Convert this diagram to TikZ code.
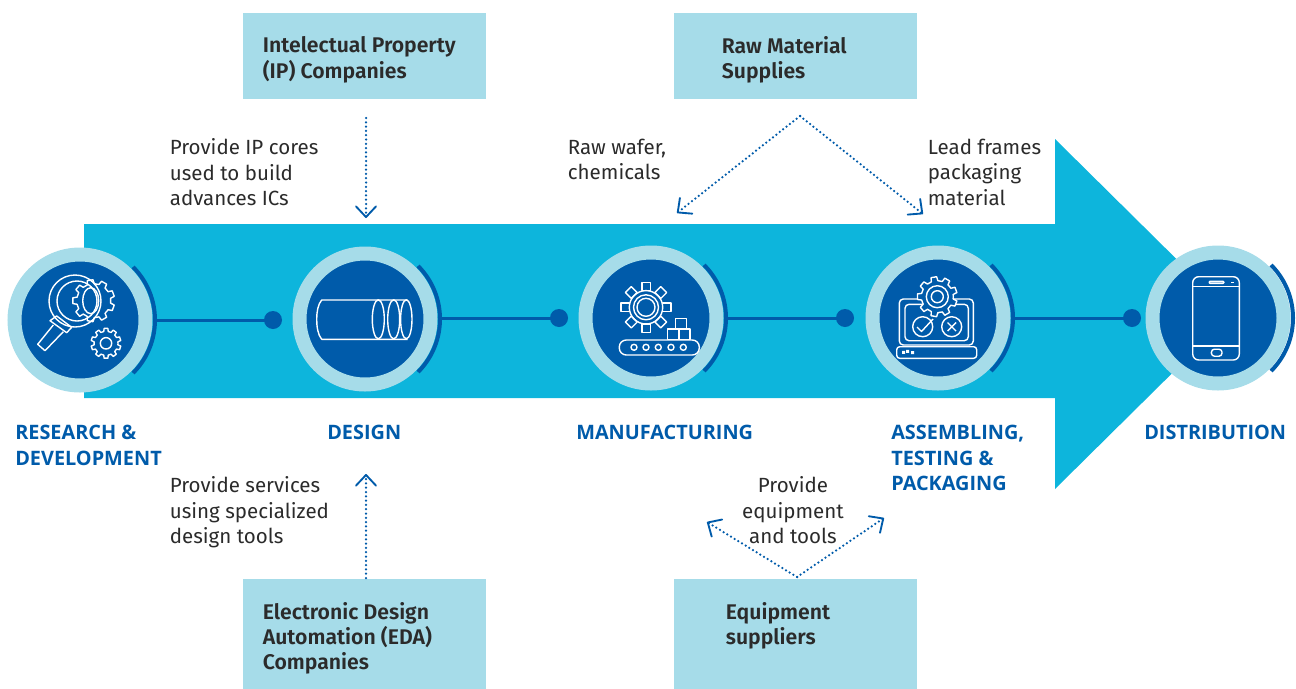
\documentclass[tikz,border=0pt]{standalone}
\usepackage{fontspec}
\setmainfont{Fira Sans}
\newfontfamily\headfont{Fira Sans SemiBold}
\newfontfamily\stagefont{Open Sans}
\usetikzlibrary{arrows.meta,calc}
\definecolor{flow}{HTML}{0DB5DC}
\definecolor{pale}{HTML}{A6DCE9}
\definecolor{deep}{HTML}{005BAA}
\definecolor{ink}{HTML}{2B2B2B}
\newdimen\px \px=0.75pt
\tikzset{
  ring/.style={circle,fill=deep,draw=pale,line width=14\px,minimum size=131\px,inner sep=0pt},
  stub/.style={circle,fill=deep,minimum size=18\px,inner sep=0pt},
  link/.style={draw=deep,line width=3\px},
  bow/.style={draw=deep,line width=4\px},
  icon/.style={draw=white,line width=1.4\px,line join=round},
  panel/.style={fill=pale,anchor=north west,inner sep=0pt,minimum width=243\px},
  say/.style={anchor=north west,inner sep=0pt,align=left,text=ink,font=\fontsize{15.4}{19.1}\selectfont},
  sayc/.style={say,align=center,anchor=north},
  head/.style={say,text=ink,font=\fontsize{15.9}{18.9}\headfont\selectfont},
  stage/.style={say,text=deep,font=\fontsize{14.9}{19.1}\stagefont\bfseries\selectfont},
  dots/.style={draw=deep,line width=2.5\px,line cap=round,dash pattern=on 0pt off 4.3\px,
    -{Straight Barb[length=8pt,width=15pt,line width=1.4pt,round]}},
}
% centre x, centre y, outer r, root r, teeth
\newcommand{\cog}[5]{%
  \pgfmathsetmacro{\st}{360/#5}%
  \draw[icon,fill=deep] ($(#1,#2)+(0:#4)$)
    \foreach \k in {1,...,#5}{
      -- ($(#1,#2)+({(\k-1)*\st+0.2*\st}:#4)$)
      -- ($(#1,#2)+({(\k-1)*\st+0.3*\st}:#3)$)
      -- ($(#1,#2)+({(\k-1)*\st+0.7*\st}:#3)$)
      -- ($(#1,#2)+({(\k-1)*\st+0.8*\st}:#4)$)
    } -- cycle;}
\begin{document}
\begin{tikzpicture}[x=0.75pt,y=-0.75pt]
\useasboundingbox (0,0) rectangle (1296,689);
% big arrow
\fill[flow] (84,224) -- (1055,224) -- (1055,139) -- (1232,314) -- (1055,489) -- (1055,398) -- (84,398) -- cycle;
% panels
\node[panel,minimum height=86\px] (ip) at (243,13) {};
\node[panel,minimum height=86\px] (raw) at (674,13) {};
\node[panel,minimum height=110\px] (eda) at (243,579) {};
\node[panel,minimum height=110\px] (equip) at (674,579) {};
\node[head] (iptext) at (262.6,36.5) {Intelectual Property\\(IP) Companies};
\node[head] (rawtext) at (721.6,36.5) {Raw Material\\Supplies};
\node[head] (edatext) at (262.6,602.2) {Electronic Design\\Automation (EDA)\\Companies};
\node[head] (equiptext) at (725.6,602.2) {Equipment\\suppliers};
% circles
\node[ring] (c1) at (80,320) {};
\node[ring] (c2) at (365,319) {};
\node[ring] (c3) at (651,318) {};
\node[ring] (c4) at (938,318) {};
\node[ring] (c5) at (1218,318) {};
\node[stub] (d1) at (273,320) {};
\node[stub] (d2) at (559,318) {};
\node[stub] (d3) at (845,318) {};
\node[stub] (d4) at (1132,318) {};
\foreach \a/\b in {c1/d1,c2/d2,c3/d3,c4/d4}
  \draw[link] (\a.east |- \b.center) -- (\b.center);
\foreach \a in {c1,c2,c3,c4,c5}
  \draw[bow] ($(\a.center)+(-45:75)$) arc (-45:45:75);
% icon 1: magnifier and gears
\cog{93.7}{300.7}{21}{17}{9}
\draw[icon] (90.7,300.7) ellipse (8 and 13);
\draw[icon] (75,301) circle (26);
\draw[icon] (77,301) circle (20);
\draw[icon] (50,320.7) -- (56.7,316) -- (71.7,327.3) -- (66.7,332.7) -- cycle;
\draw[icon] (53.3,325) -- (37.7,344.3) -- (45,350.7) -- (63.3,331.7);
\cog{106}{343.3}{15}{12}{10}
\draw[icon] (106,343.3) circle (5.7);
% icon 2: cylinder
\draw[icon] (407.7,300) -- (321.7,300) .. controls (318,304) and (316.7,312) .. (316.7,319.3)
  .. controls (316.7,327) and (318,335) .. (321.7,339.3) -- (407.7,339.3);
\draw[icon] (378.3,319.3) ellipse (6 and 19.5);
\draw[icon] (393.7,319.3) ellipse (6 and 19.5);
\draw[icon] (406.3,319.3) ellipse (5.7 and 19.5);
% icon 3: gear on a conveyor
\foreach \t in {0,45,...,315}
  \draw[icon,rotate around={\t:(646,307.3)}] (662.7,303.1) rectangle (671,311.5);
\draw[icon] (646,307.3) circle (16.7);
\draw[icon] (646,307.3) circle (12.5);
\draw[icon] (646,307.3) circle (9);
\draw[icon] (675.7,318.3) rectangle (686.7,329);
\draw[icon] (667.3,329) rectangle (679,339.3);
\draw[icon] (679,329) rectangle (690,339.3);
\draw[icon,rounded corners=7\px] (619.3,340) rectangle (699.3,355);
\foreach \x in {634,646,658.3,671,683.3}
  \draw[icon] (\x,347.3) circle (3);
% icon 4: laptop with gear
\draw[icon,rounded corners=4\px] (899.3,299) rectangle (973.3,345);
\draw[icon,rounded corners=4\px] (905,304.3) rectangle (968.3,340.7);
\draw[icon,rounded corners=3\px] (896.7,346.7) -- (976.7,346.7) -- (976.7,358.3) -- (896.7,358.3) -- cycle;
\fill[white] (902,350.8) rectangle (905,353.8) (906,349.8) rectangle (909,352.8) (911,351) rectangle (914,354);
\cog{937.3}{296.7}{20}{16}{9}
\draw[icon] (937.3,296.7) circle (11);
\draw[icon] (937.3,296.7) circle (6);
\draw[icon] (922.7,326.7) circle (10);
\draw[icon] (951.7,326.7) circle (10);
\draw[icon] (917,327) -- (921.5,331.5) -- (933,319);
\draw[icon] (947.5,322.5) -- (956,331) (956,322.5) -- (947.5,331);
% icon 5: phone
\draw[icon,rounded corners=6\px] (1192.7,276.7) rectangle (1239.3,360);
\draw[icon] (1192.7,286.7) -- (1239.3,286.7) (1192.7,346) -- (1239.3,346);
\draw[icon,rounded corners=1\px] (1209,281.3) rectangle (1224,283.3);
\fill[white] (1230.7,281.7) rectangle (1234,283);
\draw[icon,rounded corners=3\px] (1211.4,349.2) rectangle (1222,356.2);
% stage names
\node[stage] (s1) at (15,425) {RESEARCH \&\\DEVELOPMENT};
\node[stage] (s2) at (327,425) {DESIGN};
\node[stage] (s3) at (576,425) {MANUFACTURING};
\node[stage] (s4) at (891,425) {ASSEMBLING,\\TESTING \&\\PACKAGING};
\node[stage] (s5) at (1144,425) {DISTRIBUTION};
% notes
\node[say] (n1) at (169.6,138.5) {Provide IP cores\\used to build\\advances ICs};
\node[say] (n2) at (567.6,138.5) {Raw wafer,\\chemicals};
\node[say] (n3) at (927.6,138.5) {Lead frames\\packaging\\material};
\node[say] (n4) at (169.6,476.5) {Provide services\\using specialized\\design tools};
\node[sayc] (n5) at (793,476.5) {Provide\\equipment\\and tools};
% dotted connectors
\coordinate (a1) at (366,118); \coordinate (b1) at (366,218);
\coordinate (a2) at (800,116); \coordinate (b2) at (677,213); \coordinate (b3) at (923,214);
\coordinate (a4) at (366,578); \coordinate (b4) at (366,474);
\coordinate (a5) at (797,577); \coordinate (b5) at (707,522); \coordinate (b6) at (884,518);
\draw[dots] (a1) -- (b1);
\draw[dots] (a2) -- (b2);
\draw[dots] (a2) -- (b3);
\draw[dots] (a4) -- (b4);
\draw[dots] (a5) -- (b5);
\draw[dots] (a5) -- (b6);
\end{tikzpicture}
\end{document}
